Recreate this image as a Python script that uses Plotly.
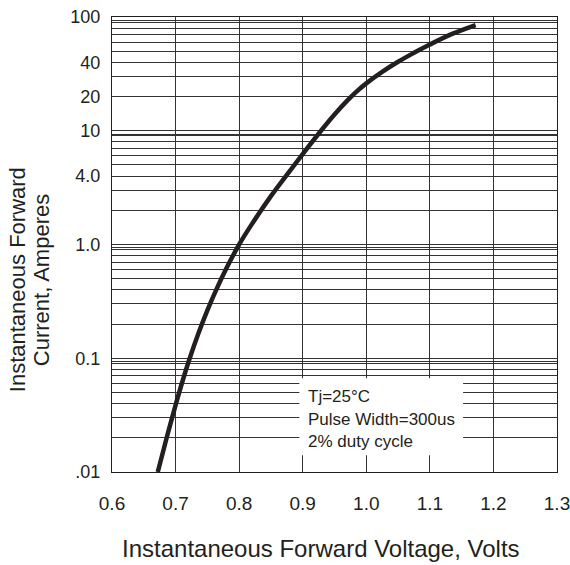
import plotly.graph_objects as go

# Forward characteristic
voltage = [0.672, 0.686, 0.700, 0.711, 0.722, 0.736, 0.750, 0.765, 0.780, 0.800,
           0.820, 0.850, 0.875, 0.900, 0.930, 0.950, 0.970, 0.985, 1.000, 1.025,
           1.050, 1.075, 1.100, 1.135, 1.172]
current = [0.0100, 0.0200, 0.0387, 0.0631, 0.0989, 0.166, 0.264, 0.412, 0.618, 1.00,
           1.51, 2.66, 4.09, 6.24, 10.2, 13.9, 18.4, 22.2, 26.1, 32.9,
           40.4, 48.4, 57.3, 71.0, 85.0]

x_ticks = [0.6, 0.7, 0.8, 0.9, 1.0, 1.1, 1.2, 1.3]
x_ticktext = ["0.6", "0.7", "0.8", "0.9", "1.0", "1.1", "1.2", "1.3"]

y_labeled = {0.01: ".01", 0.1: "0.1", 1.0: "1.0", 4.0: "4.0", 10.0: "10",
             20.0: "20", 40.0: "40", 100.0: "100"}
decades = [0.01, 0.1, 1.0, 10.0]
multipliers = [1, 2, 3, 4, 5, 6, 7, 8, 9, 9.35]

y_grid = sorted(set([round(d * m, 6) for d in decades for m in multipliers] + [100.0]))
y_ticktext = [y_labeled.get(v, "") for v in y_grid]

note_lines = ["Tj=25°C", "Pulse Width=300us", "2% duty cycle"]

ink = "#231f20"
grid = "#333333"
font_family = "Liberation Sans, Arial, sans-serif"

fig = go.Figure()
fig.add_trace(go.Scatter(
    x=voltage, y=current, mode="lines",
    line=dict(color=ink, width=4.5, shape="spline", smoothing=1.0),
    hoverinfo="skip", showlegend=False,
))

fig.update_layout(
    width=570, height=565,
    margin=dict(l=112, r=13, t=17, b=93, autoexpand=False),
    paper_bgcolor="white", plot_bgcolor="white",
    font=dict(family=font_family, color=ink, size=18),
    showlegend=False,
)

fig.update_xaxes(
    range=[0.6, 1.3], tickmode="array", tickvals=x_ticks, ticktext=x_ticktext,
    showgrid=True, gridcolor=grid, gridwidth=1, zeroline=False,
    showline=True, linecolor=ink, linewidth=1.2, mirror=True,
    ticks="", ticklabelstandoff=14, tickfont=dict(size=19),
    ticklabeloverflow="allow", automargin=False,
)
fig.update_yaxes(
    type="log", range=[-2, 2], tickmode="array", tickvals=y_grid, ticktext=y_ticktext,
    showgrid=True, gridcolor=grid, gridwidth=1, zeroline=False,
    showline=True, linecolor=ink, linewidth=1.2, mirror=True,
    ticks="", ticklabelstandoff=7, tickfont=dict(size=18),
    ticklabeloverflow="allow", automargin=False,
)

# white legend panel covering the grid
fig.add_shape(type="rect", xref="paper", yref="paper",
              x0=0.421, x1=0.789, y0=0.037, y1=0.206,
              fillcolor="white", line=dict(width=0), layer="above")

note_y = [0.165, 0.116, 0.068]
for txt, yy in zip(note_lines, note_y):
    fig.add_annotation(text=txt, xref="paper", yref="paper", x=0.437, y=yy,
                       xanchor="left", yanchor="middle", showarrow=False,
                       font=dict(size=17, color=ink, family=font_family))

# axis titles
fig.add_annotation(text="Instantaneous Forward Voltage, Volts", xref="paper", yref="paper",
                   x=0.470, y=-0.169, xanchor="center", yanchor="middle", showarrow=False,
                   font=dict(size=24, color=ink, family=font_family))
fig.add_annotation(text="Instantaneous Forward", xref="paper", yref="paper",
                   x=(18 - 111.7) / 445, y=(471.7 - 280) / 454, textangle=-90,
                   xanchor="center", yanchor="middle", showarrow=False,
                   font=dict(size=22, color=ink, family=font_family))
fig.add_annotation(text="Current, Amperes", xref="paper", yref="paper",
                   x=(42 - 111.7) / 445, y=(471.7 - 280) / 454, textangle=-90,
                   xanchor="center", yanchor="middle", showarrow=False,
                   font=dict(size=22, color=ink, family=font_family))

fig.write_html("out.html", config={"displayModeBar": False, "staticPlot": True},
               post_script="document.body.style.margin='0';document.body.style.overflow='hidden';")
